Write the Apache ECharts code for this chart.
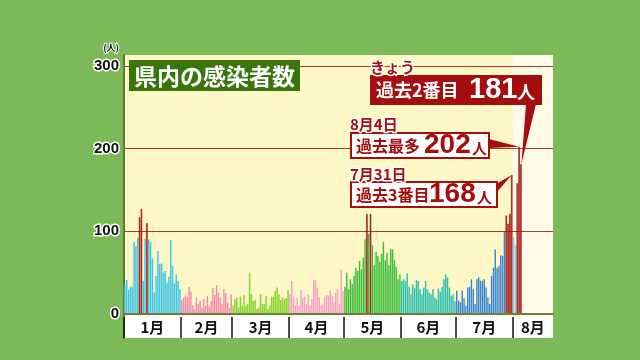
<!DOCTYPE html>
<html><head><meta charset="utf-8">
<script src="https://cdn.jsdelivr.net/npm/echarts@6/dist/echarts.min.js"></script>
<style>html,body{margin:0;padding:0;background:#7cba58;}#c{width:640px;height:360px;}</style>
</head><body><div id="c"></div>
<script>
// ---- data ----
const monthNames = ['1月','2月','3月','4月','5月','6月','7月','8月'];
const monthDays  = [31,28,31,30,31,30,31,22];
const jan = [35,41,29,33,33,87,82,92,117,127,40,91,110,90,87,67,26,46,76,60,61,50,52,38,45,89,58,37,48,40,30];
const feb = [17,20,22,21,33,27,10,6,20,12,16,8,18,10,22,9,16,31,23,35,26,20,12,30,25,14,7,24];
const mar = [10,18,20,8,21,10,23,10,12,50,24,16,17,6,8,24,12,12,22,6,10,21,21,28,32,24,17,20,18,19,29];
const apr = [24,40,21,10,20,10,29,19,21,12,24,10,18,41,41,32,20,10,12,21,23,22,28,22,13,26,30,12,54,28];
const may = [33,50,30,42,36,46,56,52,64,54,68,90,121,97,121,83,59,75,70,63,73,87,65,74,59,79,78,65,57,42,48];
const jun = [40,42,40,49,33,24,36,31,41,40,30,24,32,40,30,26,24,30,20,18,31,27,33,42,48,44,32,22,24,15];
const jul = [28,16,14,28,19,10,32,33,42,30,12,42,44,40,40,42,32,20,12,46,56,78,56,58,71,70,99,119,109,121,168];
const aug = [93,83,158,202,181];
const yTicks = [0,100,200,300];
const title = '県内の感染者数';
const notes = [
  {day:'8/5',  head:'きょう',  lead:'過去2番目', num:'181', unit:'人'},
  {day:'8/4',  head:'8月4日',  lead:'過去最多',  num:'202', unit:'人'},
  {day:'7/31', head:'7月31日', lead:'過去3番目', num:'168', unit:'人'}
];

// ---- build ----
const monthSeries = [jan,feb,mar,apr,may,jun,jul,aug];
const monthColors = ['#3cc4e6','#f28cae','#84d42c','#f5a3c8','#3dbd3a','#2cbfb0','#3a86d8','#7cd2ea'];
const categories = [], values = [], monthOf = [];
monthSeries.forEach((arr, m) => {
  for (let d = 1; d <= monthDays[m]; d++) {
    categories.push((m+1) + '/' + d);
    values.push(d <= arr.length ? arr[d-1] : null);
    monthOf.push(m);
  }
});
const total = categories.length;
const bounds = [0]; monthDays.forEach(n => bounds.push(bounds[bounds.length-1] + n));
const mids = monthDays.map((n, i) => bounds[i] + n / 2);
const barData = values.map((v, i) => v == null ? '-' : ({
  value: v,
  itemStyle: v >= 100 ? {color:'#e42a26', borderColor:'#8c0c0c', borderWidth:0.6}
                      : {color: monthColors[monthOf[i]]}
}));
const yMin = -29, yMax = 313;   // band below 0 holds the month row

const chart = echarts.init(document.getElementById('c'));
const numFont = '"Liberation Sans", Arial, sans-serif';
const jp = '"Noto Sans CJK JP", sans-serif';
chart.setOption({
  backgroundColor: '#7cba58',
  animation: false,
  grid: {left:124, right:87, top:55, bottom:22, show:true, backgroundColor:'#fdf8c6', borderWidth:0, outerBoundsMode:'none'},
  xAxis: [
    {type:'category', data:categories, boundaryGap:true,
     axisLabel:{show:false}, axisTick:{show:false},
     axisLine:{onZero:true, lineStyle:{color:'#6b7c52', width:2}}, z:3},
    {type:'value', position:'bottom', min:0, max:total, z:4,
     axisLine:{show:false, onZero:false}, splitLine:{show:false},
     axisTick:{show:true, inside:true, length:21, customValues:bounds.slice(0, -1), lineStyle:{color:'#111', width:1.5}},
     axisLabel:{show:true, inside:true, customValues:mids, verticalAlign:'middle', margin:11,
       formatter: v => { let b = 0; mids.forEach((m, i) => { if (Math.abs(m - v) < Math.abs(mids[b] - v)) b = i; }); return monthNames[b]; },
       fontSize:15, fontWeight:'bold', color:'#111', fontFamily:jp}}
  ],
  yAxis: {type:'value', min:yMin, max:yMax, z:1.5,
     name:'(人)', nameLocation:'end', nameGap:3,
     nameTextStyle:{fontSize:9, fontWeight:'bold', color:'#111', align:'right', padding:[0,5,0,0], textBorderColor:'#fff', textBorderWidth:2, fontFamily:jp},
     axisLine:{show:true, lineStyle:{color:'#5b7a3c', width:2}},
     axisTick:{show:false, customValues:yTicks},
     splitLine:{show:true, showMinLine:false, lineStyle:{color:'#a0402e', width:1}},
     axisLabel:{customValues:yTicks, margin:5, fontSize:15, fontWeight:'bold', color:'#111', fontFamily:numFont,
       textBorderColor:'#fff', textBorderWidth:3}},
  series: [
    {type:'bar', xAxisIndex:0, data:barData, barWidth:'78%', z:2, silent:true},
    {type:'line', xAxisIndex:1, data:[], silent:true,
     markArea:{silent:true, data:[
       [{xAxis:bounds[7], yAxis:0, itemStyle:{color:'#fffbe8'}}, {xAxis:total, yAxis:yMax}],
       [{xAxis:0, yAxis:yMin, itemStyle:{color:'#ffffff'}}, {xAxis:total, yAxis:-2.6}]
     ]}}
  ]
});

// ---- annotations ----
const DR = '#a50e0e';
function tipOf(day) {
  const i = categories.indexOf(day);
  return chart.convertToPixel({seriesIndex:0}, [categories[i], values[i]]);
}
function txt(x, y, text, size, color, extra) {
  return {type:'text', z:102, x, y, silent:true,
    style: Object.assign({text, fontSize:size, fontWeight:'bold', fontFamily:jp, fill:color, align:'left', verticalAlign:'middle'}, extra || {})};
}
const halo = {stroke:'#fff', lineWidth:3};
const t0 = tipOf(notes[0].day), t1 = tipOf(notes[1].day), t2 = tipOf(notes[2].day);
const g = [
  {type:'rect', z:100, shape:{x:129, y:60, width:171, height:31}, style:{fill:'#38760c'}},
  txt(134, 76, title, 23, '#fff'),
  // today
  {type:'polygon', z:100, shape:{points:[[526,104],[536,104],[t0[0]+0.5, t0[1]]]}, style:{fill:DR}},
  {type:'rect', z:101, shape:{x:370, y:75, width:172, height:30}, style:{fill:DR}},
  txt(370, 67, notes[0].head, 15, DR, halo),
  txt(376, 90, notes[0].lead, 18, '#fff'),
  txt(469, 90, notes[0].num, 29, '#fff', {fontFamily:numFont}),
  txt(517, 92, notes[0].unit, 18, '#fff'),
  // 8/4
  {type:'polygon', z:100, shape:{points:[[489,139],[489,148],[t1[0], t1[1]]]}, style:{fill:DR}},
  {type:'rect', z:101, shape:{x:351, y:133, width:138, height:25}, style:{fill:'#fff', stroke:DR, lineWidth:2}},
  txt(350, 124, notes[1].head, 15, DR, halo),
  txt(356, 146, notes[1].lead, 16, DR),
  txt(424, 145, notes[1].num, 28, DR, {fontFamily:numFont}),
  txt(472, 148, notes[1].unit, 15, DR),
  // 7/31
  {type:'polygon', z:100, shape:{points:[[496,184],[496,193],[t2[0], t2[1]]]}, style:{fill:DR}},
  {type:'rect', z:101, shape:{x:351, y:182, width:146, height:25}, style:{fill:'#fff', stroke:DR, lineWidth:2}},
  txt(350, 174, notes[2].head, 15, DR, halo),
  txt(356, 195, notes[2].lead, 16, DR),
  txt(429, 194, notes[2].num, 28, DR, {fontFamily:numFont}),
  txt(477, 197, notes[2].unit, 15, DR)
];
chart.setOption({graphic: g});
</script></body></html>
